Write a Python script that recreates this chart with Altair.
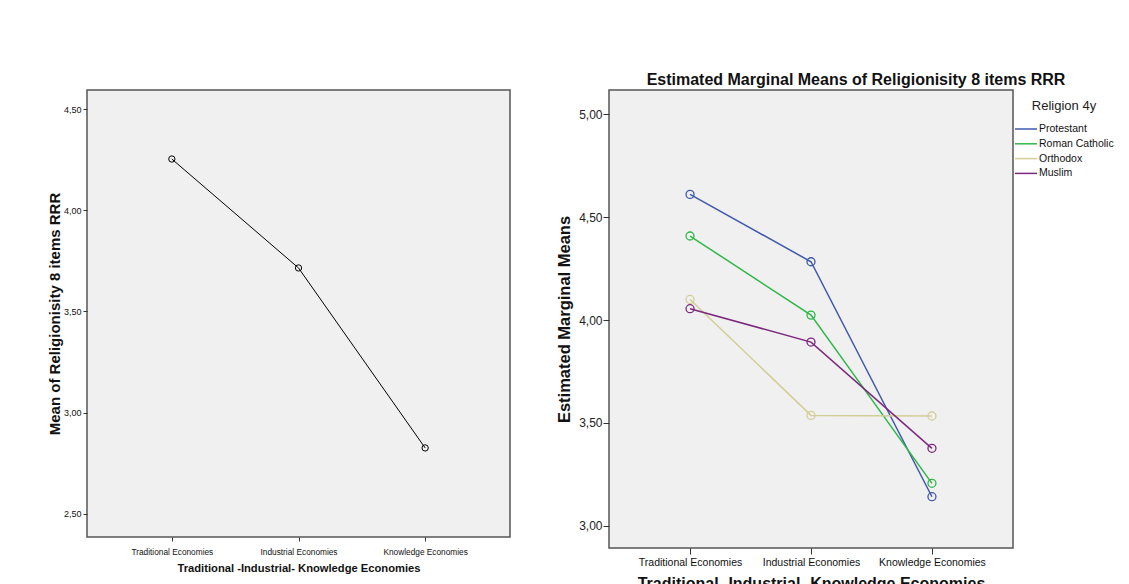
import altair as alt
import pandas as pd

# ---- data ----
categories = ["Traditional Economies", "Industrial Economies", "Knowledge Economies"]
overall_mean = [4.253, 3.715, 2.826]

religions = ["Protestant", "Roman Catholic", "Orthodox", "Muslim"]
protestant = [4.61, 4.283, 3.142]
roman_catholic = [4.408, 4.024, 3.207]
orthodox = [4.10, 3.537, 3.534]
muslim = [4.055, 3.893, 3.377]
religion_colors = ["#3e58ac", "#2eb848", "#d3ce97", "#7c287d"]

left_ticks = [2.5, 3.0, 3.5, 4.0, 4.5]
right_ticks = [3.0, 3.5, 4.0, 4.5, 5.0]

SANS = "Liberation Sans, Arial, sans-serif"

df_left = pd.DataFrame({"economy": categories, "mean": overall_mean})
rows = []
for rel, vals in zip(religions, [protestant, roman_catholic, orthodox, muslim]):
    for c, v in zip(categories, vals):
        rows.append({"religion": rel, "economy": c, "emm": v})
df_right = pd.DataFrame(rows)

label_expr = "replace(format(datum.value, '.2f'), '.', ',')"

# ---- left panel ----
x_left = alt.X(
    "economy:N", sort=categories,
    scale=alt.Scale(type="point", padding=0.67),
    axis=alt.Axis(
        title="Traditional -Industrial- Knowledge Economies", labelAngle=0,
        labelFont=SANS, labelFontSize=8.3, labelColor="#111",
        tickSize=4, tickColor="#333", labelPadding=6,
        titleFont=SANS, titleFontSize=11.2, titleFontWeight="bold",
        titleColor="#111", titlePadding=7, domain=False, grid=False,
    ),
)
y_left = alt.Y(
    "mean:Q",
    scale=alt.Scale(domain=[2.386, 4.594], nice=False, zero=False),
    axis=alt.Axis(
        title="Mean of Religionisity 8 items  RRR", values=left_ticks,
        labelExpr=label_expr, labelFont=SANS, labelFontSize=9, labelColor="#111",
        tickSize=4, tickColor="#333", labelPadding=2,
        titleFont=SANS, titleFontSize=15, titleFontWeight="bold", titleColor="#111",
        titleX=-33, titleBaseline="middle", domain=False, grid=False,
    ),
)
left_line = alt.Chart(df_left).mark_line(color="black", strokeWidth=1).encode(x=x_left, y=y_left)
left_pts = alt.Chart(df_left).mark_point(
    shape="circle", filled=False, color="black", size=40, strokeWidth=1, opacity=1
).encode(x=x_left, y=y_left)
left = alt.layer(left_line, left_pts).properties(width=423, height=447)

# ---- right panel ----
x_right = alt.X(
    "economy:N", sort=categories,
    scale=alt.Scale(type="point", padding=0.67),
    axis=alt.Axis(
        title="Traditional -Industrial- Knowledge Economies", labelAngle=0,
        labelFont=SANS, labelFontSize=10.5, labelColor="#111",
        tickSize=6, tickColor="#333", labelPadding=3,
        titleFont=SANS, titleFontSize=16, titleFontWeight="bold",
        titleColor="#111", titlePadding=8, domain=False, grid=False,
    ),
)
y_right = alt.Y(
    "emm:Q",
    scale=alt.Scale(domain=[2.893, 5.117], nice=False, zero=False),
    axis=alt.Axis(
        title="Estimated Marginal Means", values=right_ticks,
        labelExpr=label_expr, labelFont=SANS, labelFontSize=12, labelColor="#222",
        tickSize=6, tickColor="#333", labelPadding=1,
        titleFont=SANS, titleFontSize=16.5, titleFontWeight="bold", titleColor="#111",
        titleX=-45, titleBaseline="middle", domain=False, grid=False,
    ),
)
color = alt.Color(
    "religion:N", sort=religions,
    scale=alt.Scale(domain=religions, range=religion_colors),
    legend=alt.Legend(
        title="Religion 4y", orient="none", legendX=927, legendY=10,
        symbolType="M-1,0H3.4", symbolSize=100, symbolStrokeWidth=1.5,
        labelOffset=13, labelFont=SANS, labelFontSize=10.5, labelColor="#111",
        titleFont=SANS, titleFontSize=13, titleFontWeight="normal", titleColor="#222",
        titleAnchor="middle", titlePadding=10, rowPadding=2.8, padding=0,
    ),
)
right_line = alt.Chart(df_right).mark_line(strokeWidth=1.5).encode(
    x=x_right, y=y_right, color=color, detail="religion:N"
)
right_pts = alt.Chart(df_right).mark_point(
    shape="circle", filled=False, size=64, strokeWidth=1.3, opacity=1
).encode(x=x_right, y=y_right, color=color)
right = alt.layer(right_line, right_pts).properties(
    width=404, height=458,
    title=alt.TitleParams(
        "Estimated Marginal Means of Religionisity 8 items  RRR",
        font=SANS, fontSize=16, fontWeight="bold", anchor="middle", dx=45,
        offset=-14, baseline="bottom", color="#111",
    ),
)

chart = (
    alt.hconcat(left, right, spacing=44)
    .properties(padding={"left": 38, "top": 63, "right": 0, "bottom": 0}, background="white")
    .configure_view(fill="#f0f0f0", stroke="#555555", strokeWidth=1.5)
)

chart.save("out.html", embed_options={"renderer": "svg", "actions": False})
